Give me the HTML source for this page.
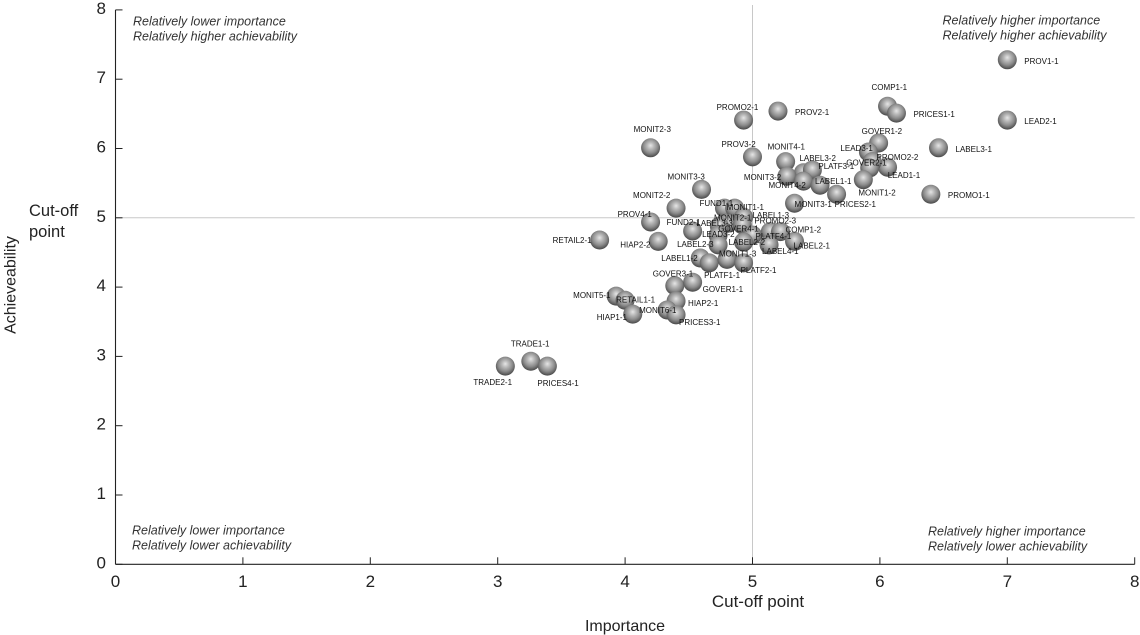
<!DOCTYPE html>
<html lang="en">
<head>
<meta charset="utf-8">
<title>Importance and achievability scatter chart</title>
<style>
html,body{margin:0;padding:0;background:#fff;width:1140px;height:635px;overflow:hidden}
svg{display:block;font-family:"Liberation Sans",sans-serif;fill:#222}
#marks{filter:blur(0.3px)}
</style>
</head>
<body>
<svg id="chart" width="1140" height="635" viewBox="0 0 1140 635" xmlns="http://www.w3.org/2000/svg">
<defs>
<radialGradient id="ball" cx="50%" cy="42%" r="60%" fx="50%" fy="38%">
<stop offset="0" stop-color="#e6e6e6"/>
<stop offset="0.3" stop-color="#b8b8b8"/>
<stop offset="0.62" stop-color="#8c8c8c"/>
<stop offset="0.88" stop-color="#5a5a5a"/>
<stop offset="1" stop-color="#3c3c3c"/>
</radialGradient>
</defs>
<g id="axes"></g>
<g id="marks"></g>
<g id="labels" font-size="8" fill="#111"></g>
<g font-size="12.5" font-style="italic" fill="#333">
<text x="133" y="25.5">Relatively lower importance</text>
<text x="133" y="40.5">Relatively higher achievability</text>
<text x="942.5" y="24.5">Relatively higher importance</text>
<text x="942.5" y="39.5">Relatively higher achievability</text>
<text x="132" y="534.5">Relatively lower importance</text>
<text x="132" y="549.5">Relatively lower achievability</text>
<text x="928" y="535.5">Relatively higher importance</text>
<text x="928" y="550.5">Relatively lower achievability</text>
</g>
<g fill="#222">
<text x="625" y="631" text-anchor="middle" font-size="16">Importance</text>
<text x="758" y="607" text-anchor="middle" font-size="17">Cut-off point</text>
<text transform="translate(15.5,285) rotate(-90)" text-anchor="middle" font-size="16">Achieveability</text>
<text x="29" y="216" font-size="16.5">Cut-off</text>
<text x="29" y="237" font-size="16.5">point</text>
</g>
</svg>
<script>
const SVG_NS = 'http://www.w3.org/2000/svg';

// Chart data
const pointNames = ['PROV1-1','LEAD2-1','COMP1-1','PRICES1-1','PROV2-1','PROMO2-1','MONIT2-3','PROV3-2','MONIT4-1','GOVER1-2','LEAD3-1','LABEL3-1','PROMO2-2','GOVER2-1','LEAD1-1','LABEL3-2','PLATF3-1','MONIT3-2','MONIT4-2','LABEL1-1','MONIT1-2','PRICES2-1','MONIT3-1','PROMO1-1','MONIT3-3','MONIT2-2','PROV4-1','RETAIL2-1','HIAP2-2','FUND2-1','FUND1-1','MONIT1-1','LABEL1-3','MONIT2-1','LABEL3-3','GOVER4-1','PROMO2-3','COMP1-2','PLATF4-1','LEAD3-2','LABEL2-3','LABEL2-2','LABEL4-1','LABEL2-1','LABEL1-2','PLATF1-1','MONIT1-3','PLATF2-1','GOVER3-1','GOVER1-1','HIAP2-1','MONIT5-1','RETAIL1-1','HIAP1-1','MONIT6-1','PRICES3-1','TRADE1-1','TRADE2-1','PRICES4-1'];
const importance = [7.00,7.00,6.06,6.13,5.20,4.93,4.20,5.00,5.26,5.99,5.91,6.46,6.06,5.94,5.92,5.40,5.47,5.27,5.40,5.53,5.87,5.66,5.33,6.40,4.60,4.40,4.20,3.80,4.26,4.53,4.78,4.86,4.93,4.80,4.74,4.92,5.14,5.22,5.00,4.73,4.73,4.93,5.13,5.33,4.59,4.66,4.80,4.93,4.39,4.53,4.40,3.93,4.00,4.06,4.33,4.40,3.26,3.06,3.39];
const achievability = [7.28,6.41,6.61,6.51,6.54,6.41,6.01,5.88,5.81,6.08,5.95,6.01,5.73,5.81,5.72,5.65,5.69,5.60,5.53,5.47,5.55,5.34,5.21,5.34,5.41,5.14,4.94,4.68,4.66,4.81,5.14,5.14,5.01,4.92,4.88,4.90,4.80,4.80,4.75,4.75,4.61,4.65,4.61,4.66,4.42,4.35,4.40,4.35,4.02,4.07,3.80,3.87,3.81,3.61,3.67,3.60,2.93,2.86,2.86];
const xTicks = [0,1,2,3,4,5,6,7,8];
const yTicks = [0,1,2,3,4,5,6,7,8];
const xCutoff = [5];
const yCutoff = [5];

// Layout only: label placement relative to each sphere, in point order
const labelDx = [17,17,-16,17,17,-27,-17,-31,-18,-17,-28,17,-11,-26,18,-4,6,-43,-35,-5,-5,-2,0,17,-34,-43,-33,-47,-38,-26,-25,-8,9,-13,-23,-24,-16,5,3,-16,-41,-15,-7,-1,-39,-5,-8,-3,-22,10,12,-43,-9,-36,-28,3,-20,-32,-10];
const labelDy = [1,1,-19,1,1,-13,-19,-13,-15,-12,-4,1,-10,1,7,-15,-4,1,4,-4,13,10,1,1,-13,-13,-8,0,3,-9,-5,-1,-2,-6,-3,4,-11,-2,1,-1,-1,0,6,4,0,12,-6,7,-12,7,2,-1,-1,3,0,7,-18,16,17];

const sx = v => 115.5 + v * 127.4;
const sy = v => 564.3 - v * 69.3;

function make(tag, attrs, parent, text) {
  const el = document.createElementNS(SVG_NS, tag);
  for (const k in attrs) el.setAttribute(k, attrs[k]);
  if (text !== undefined) el.textContent = text;
  parent.appendChild(el);
  return el;
}

const axes = document.getElementById('axes');
const marks = document.getElementById('marks');
const labels = document.getElementById('labels');

xCutoff.forEach(v => {
  const el = make('line', {x1: sx(v), x2: sx(v), y1: 5, y2: sy(0), stroke: '#c8c8c8', 'stroke-width': 1}, axes);
  
  
});
yCutoff.forEach(v => {
  const el = make('line', {x1: sx(0), x2: sx(8), y1: sy(v), y2: sy(v), stroke: '#c8c8c8', 'stroke-width': 1}, axes);
  
  
});

const yAxisLine = make('line', {x1: sx(0), x2: sx(0), y1: sy(8), y2: sy(0), stroke: '#222', 'stroke-width': 1.1}, axes);


const xAxisLine = make('line', {x1: sx(0), x2: sx(8), y1: sy(0), y2: sy(0), stroke: '#222', 'stroke-width': 1.1}, axes);



xTicks.forEach(v => {
  const tick = make('line', {x1: sx(v), x2: sx(v), y1: sy(0), y2: sy(0) - 7, stroke: '#222', 'stroke-width': 1}, axes);
  
  
  const label = make('text', {x: sx(v), y: 587, 'text-anchor': 'middle', 'font-size': 17}, axes, v);
  
  
});
yTicks.forEach(v => {
  const tick = make('line', {x1: sx(0), x2: sx(0) + 7, y1: sy(v), y2: sy(v), stroke: '#222', 'stroke-width': 1}, axes);
  
  
  const label = make('text', {x: 106, y: sy(v) + 4, 'text-anchor': 'end', 'font-size': 17}, axes, v);
  
  
});

pointNames.forEach((name, i) => {
  const cx = sx(importance[i]);
  const cy = sy(achievability[i]);
  const ball = make('circle', {cx: cx, cy: cy, r: 9.5, fill: 'url(#ball)'}, marks);
  
  
  const label = make('text', {x: cx + labelDx[i], y: cy + labelDy[i] + 3}, labels, name);
  
  
});
</script>
</body>
</html>
